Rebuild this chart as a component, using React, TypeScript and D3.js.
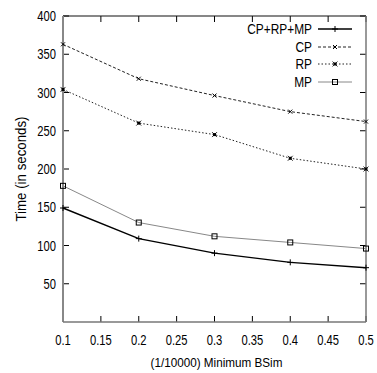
import React from "react";
import * as d3 from "d3";

const xValues = [0.1, 0.2, 0.3, 0.4, 0.5];
const seriesNames = ["CP+RP+MP", "CP", "RP", "MP"];
const allVals = [149, 109, 90, 78, 71];
const cpVals = [363, 318, 296, 275, 262];
const rpVals = [304, 260, 245, 214, 200];
const mpVals = [178, 130, 112, 104, 96];
const xTicks = [0.1, 0.15, 0.2, 0.25, 0.3, 0.35, 0.4, 0.45, 0.5];
const yTicks = [50, 100, 150, 200, 250, 300, 350, 400];

const W = 377, H = 373;
const L = 63, R = 366, T = 16, B = 322;
const FONT = "'Liberation Sans', Arial, sans-serif";

function Txt(props: { x: number; y: number; anchor: string; size: number; rot?: number; sx?: number; children: any }) {
  const sx = props.sx ?? 0.8;
  const rot = props.rot ? ` rotate(${props.rot})` : "";
  return (
    <g transform={`translate(${props.x},${props.y})${rot} scale(${sx},1)`}>
      <text x={0} y={0} textAnchor={props.anchor as any} fontFamily={FONT} fontSize={props.size} fill="#000">
        {props.children}
      </text>
    </g>
  );
}

export default function App() {
  const x = d3.scaleLinear().domain([0.1, 0.5]).range([L, R]);
  const y = d3.scaleLinear().domain([0, 400]).range([B, T]);
  const line = d3.line<number>().x((_, i) => x(xValues[i])).y((d) => y(d));
  const data = [allVals, cpVals, rpVals, mpVals];
  const styles = [
    { stroke: "#000", width: 1.4, dash: "" },
    { stroke: "#222", width: 1, dash: "3,2" },
    { stroke: "#222", width: 1, dash: "1.5,2" },
    { stroke: "#888", width: 1, dash: "" },
  ];
  const marker = (k: number, cx: number, cy: number, key: string) => {
    const s = 3;
    if (k === 0)
      return (
        <g key={key} stroke="#000" strokeWidth={1}>
          <line x1={cx - s} x2={cx + s} y1={cy} y2={cy} />
          <line x1={cx} x2={cx} y1={cy - s} y2={cy + s} />
        </g>
      );
    if (k === 1)
      return (
        <g key={key} stroke="#000" strokeWidth={1}>
          <line x1={cx - 2} x2={cx + 2} y1={cy - 2} y2={cy + 2} />
          <line x1={cx - 2} x2={cx + 2} y1={cy + 2} y2={cy - 2} />
        </g>
      );
    if (k === 2)
      return (
        <g key={key}>
          <rect x={cx - 1.5} y={cy - 1.5} width={3} height={3} fill="#000" />
          <line x1={cx - 2.5} x2={cx + 2.5} y1={cy - 2.5} y2={cy + 2.5} stroke="#000" strokeWidth={0.8} />
          <line x1={cx - 2.5} x2={cx + 2.5} y1={cy + 2.5} y2={cy - 2.5} stroke="#000" strokeWidth={0.8} />
        </g>
      );
    return (
      <rect key={key} x={cx - 2.5} y={cy - 2.5} width={5} height={5} fill="none" stroke="#000" strokeWidth={1} />
    );
  };
  const legendY = [29, 47, 64, 82];
  return (
    <svg width={W} height={H} style={{ position: "absolute", left: 0, top: 0, background: "#fff" }}>
      <rect x={0} y={0} width={W} height={H} fill="#fff" />
      {xTicks.map((t, i) => (
        <g key={"xt" + i}>
          <line x1={x(t)} x2={x(t)} y1={B} y2={B - 6} stroke="#000" />
          <line x1={x(t)} x2={x(t)} y1={T} y2={T + 6} stroke="#000" />
          <Txt x={x(t)} y={B + 23} anchor="middle" size={14}>
            {t}
          </Txt>
        </g>
      ))}
      {yTicks.map((t, i) => (
        <g key={"yt" + i}>
          <line x1={L} x2={L + 6} y1={y(t)} y2={y(t)} stroke="#000" />
          <line x1={R} x2={R - 6} y1={y(t)} y2={y(t)} stroke="#000" />
          <Txt x={L - 7} y={y(t) + 5} anchor="end" size={14}>
            {t}
          </Txt>
        </g>
      ))}
      <line x1={L} x2={R} y1={T} y2={T} stroke="#111" strokeWidth={1.2} />
      <line x1={L} x2={L} y1={T} y2={B} stroke="#888" strokeWidth={2} />
      <line x1={L} x2={R} y1={B} y2={B} stroke="#777" strokeWidth={1.5} />
      <line x1={R} x2={R} y1={T} y2={B} stroke="#777" strokeWidth={1.5} />
      {data.map((vals, k) => (
        <g key={"s" + k}>
          <path
            d={line(vals) || ""}
            fill="none"
            stroke={styles[k].stroke}
            strokeWidth={styles[k].width}
            strokeDasharray={styles[k].dash}
          />
          {vals.map((v, i) => marker(k, x(xValues[i]), y(v), "m" + k + "-" + i))}
        </g>
      ))}
      {seriesNames.map((n, k) => (
        <g key={"l" + k}>
          <Txt x={312} y={legendY[k] + 5} anchor="end" size={14} sx={0.85}>
            {n}
          </Txt>
          <line
            x1={318}
            x2={352}
            y1={legendY[k]}
            y2={legendY[k]}
            stroke={styles[k].stroke}
            strokeWidth={styles[k].width}
            strokeDasharray={styles[k].dash}
          />
          {marker(k, 335, legendY[k], "lm" + k)}
        </g>
      ))}
      <Txt x={(L + R) / 2 + 2} y={367} anchor="middle" size={13} sx={0.9}>
        (1/10000) Minimum BSim
      </Txt>
      <Txt x={26} y={(T + B) / 2} anchor="middle" size={14} rot={-90} sx={0.95}>
        Time (in seconds)
      </Txt>
    </svg>
  );
}
